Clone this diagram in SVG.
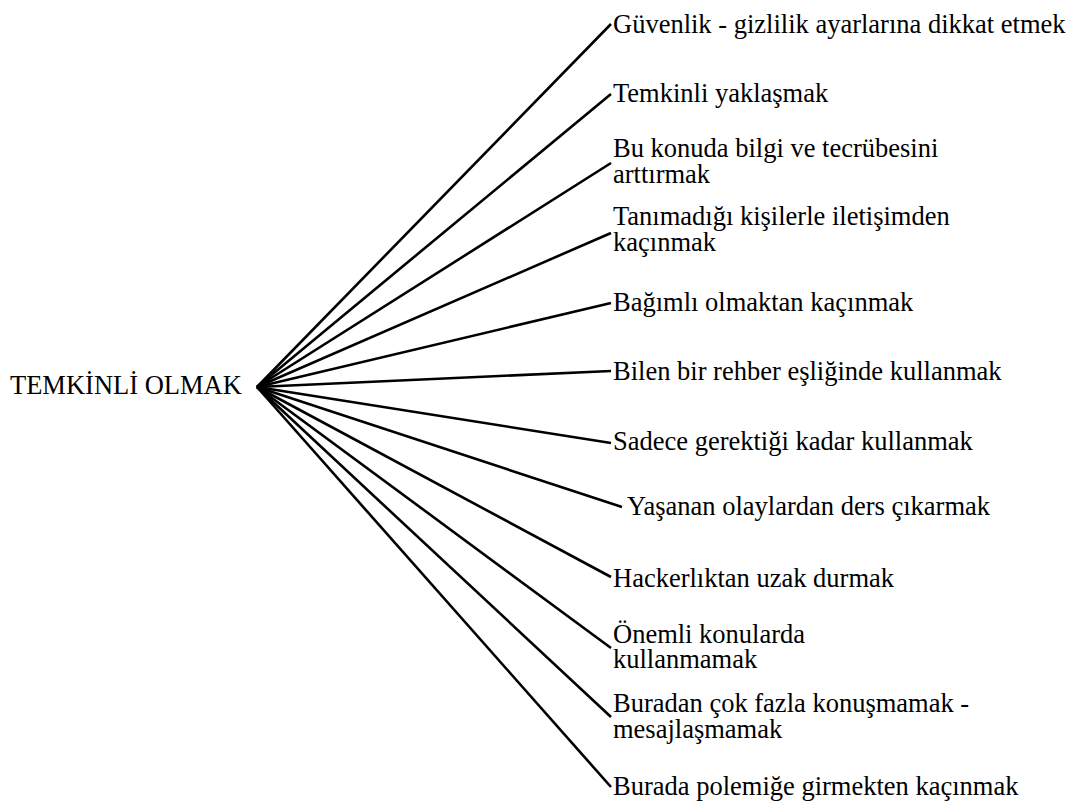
<svg xmlns="http://www.w3.org/2000/svg" width="1074" height="804" viewBox="0 0 1074 804">
  <style>
    text { font-family: 'Liberation Serif', 'Times New Roman', Tinos, 'DejaVu Serif', serif; font-size: 26.5px; fill: #000; }
    .edge { stroke: #000; stroke-width: 2.6; fill: none; stroke-linecap: butt; }
  </style>
  <rect width="1074" height="804" fill="#fff"/>

  <!-- spokes from the central topic to each item -->
  <g id="connectors">
    <line class="edge" x1="257" y1="387" x2="611" y2="24"/>
    <line class="edge" x1="257" y1="387" x2="611" y2="94"/>
    <line class="edge" x1="257" y1="387" x2="611" y2="163"/>
    <line class="edge" x1="257" y1="387" x2="611" y2="233"/>
    <line class="edge" x1="257" y1="387" x2="611" y2="303"/>
    <line class="edge" x1="257" y1="387" x2="611" y2="371"/>
    <line class="edge" x1="257" y1="387" x2="611" y2="443"/>
    <line class="edge" x1="257" y1="387" x2="622" y2="507"/>
    <line class="edge" x1="257" y1="387" x2="611" y2="577"/>
    <line class="edge" x1="257" y1="387" x2="611" y2="648"/>
    <line class="edge" x1="257" y1="387" x2="611" y2="717"/>
    <line class="edge" x1="257" y1="387" x2="611" y2="787"/>
  </g>

  <g id="center">
    <text x="10" y="394">TEMKİNLİ OLMAK</text>
  </g>

  <g id="item1"><text x="613" y="33">Güvenlik - gizlilik ayarlarına dikkat etmek</text></g>
  <g id="item2"><text x="613" y="102">Temkinli yaklaşmak</text></g>
  <g id="item3">
    <text x="613" y="157">Bu konuda bilgi ve tecrübesini<tspan x="613" dy="26">arttırmak</tspan></text>
  </g>
  <g id="item4">
    <text x="613" y="225">Tanımadığı kişilerle iletişimden<tspan x="613" dy="26">kaçınmak</tspan></text>
  </g>
  <g id="item5"><text x="613" y="311">Bağımlı olmaktan kaçınmak</text></g>
  <g id="item6"><text x="613" y="380">Bilen bir rehber eşliğinde kullanmak</text></g>
  <g id="item7"><text x="613" y="450">Sadece gerektiği kadar kullanmak</text></g>
  <g id="item8"><text x="627" y="515">Yaşanan olaylardan ders çıkarmak</text></g>
  <g id="item9"><text x="613" y="587">Hackerlıktan uzak durmak</text></g>
  <g id="item10">
    <text x="613" y="643">Önemli konularda<tspan x="613" dy="25">kullanmamak</tspan></text>
  </g>
  <g id="item11">
    <text x="613" y="712">Buradan çok fazla konuşmamak -<tspan x="613" dy="26">mesajlaşmamak</tspan></text>
  </g>
  <g id="item12"><text x="613" y="795">Burada polemiğe girmekten kaçınmak</text></g>
</svg>
